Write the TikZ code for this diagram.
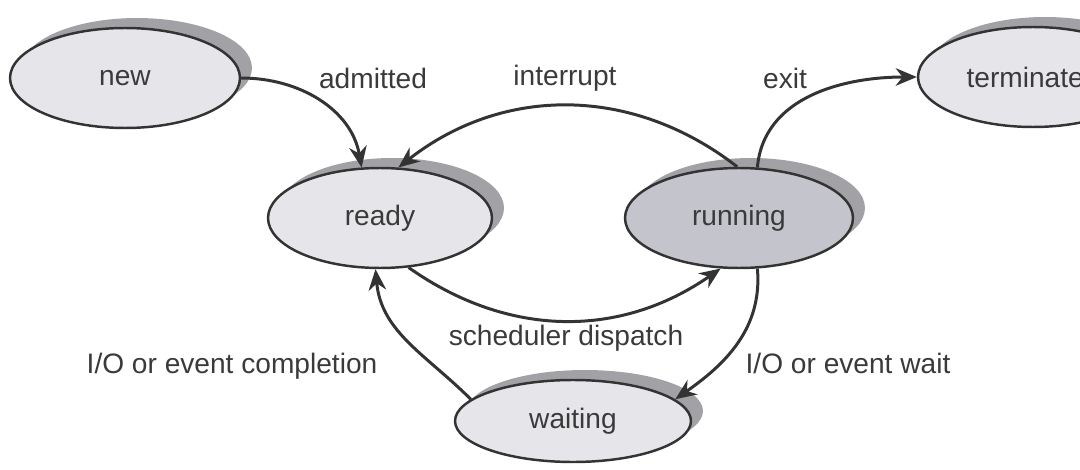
\documentclass[tikz,border=0pt]{standalone}
\usepackage{fontspec}
\setmainfont{Liberation Sans}
\definecolor{edge}{HTML}{333333}
\definecolor{txt}{HTML}{3A3A3A}
\definecolor{statelt}{HTML}{E6E6EA}
\definecolor{statedk}{HTML}{C4C4CC}
\definecolor{shade}{HTML}{A2A2A6}
\usetikzlibrary{arrows.meta,shapes.geometric,shadows}

\begin{document}
\begin{tikzpicture}[
  x=0.02cm, y=-0.02cm,
  font=\fontsize{16}{19}\selectfont, text=txt,
  snode/.style={
    ellipse, draw=edge, fill=statelt, line width=1.4pt,
    inner sep=0pt, minimum width=4.6cm, minimum height=2cm,
    drop shadow={shadow xshift=0.24cm, shadow yshift=0.2cm,
      fill=shade, opacity=1}},
  runnode/.style={snode, fill=statedk},
  arr/.style={-{Stealth[length=12pt,width=10pt]}, edge, line width=1.7pt},
]
  \useasboundingbox (0,0) rectangle (1080,470);

  \node[snode] (new)  at (125,78)  {new};
  \node[snode] (term) at (1033,77) {terminated};
  \node[snode, minimum width=4.48cm] (ready) at (380,218) {ready};
  \node[runnode, minimum width=4.56cm] (run) at (739,218) {running};
  \node[snode, minimum width=4.72cm, minimum height=1.64cm] (wait) at (573,421) {waiting};

  \draw[arr] (new.east) to[out=0,in=100] (ready.110);
  \draw[arr] (run.92) to[bend right=38] (ready.70);
  \draw[arr] (run.70) to[out=85,in=180] (term.west);
  \draw[arr] (ready.300) to[bend right=35] (run.250);
  \draw[arr] (run.290) to[out=-85,in=35] (wait.12);
  \draw[arr] (wait.168) to[out=135,in=-85] (ready.265);

  \node (admit) at (373,78)  {admitted};
  \node (intr)  at (565,78)  {interrupt};
  \node (exit)  at (785,78)  {exit};
  \node (disp)  at (566,338) {scheduler dispatch};
  \node (iodone) at (232,366) {I/O or event completion};
  \node (iowait) at (848,363) {I/O or event wait};
\end{tikzpicture}
\end{document}
